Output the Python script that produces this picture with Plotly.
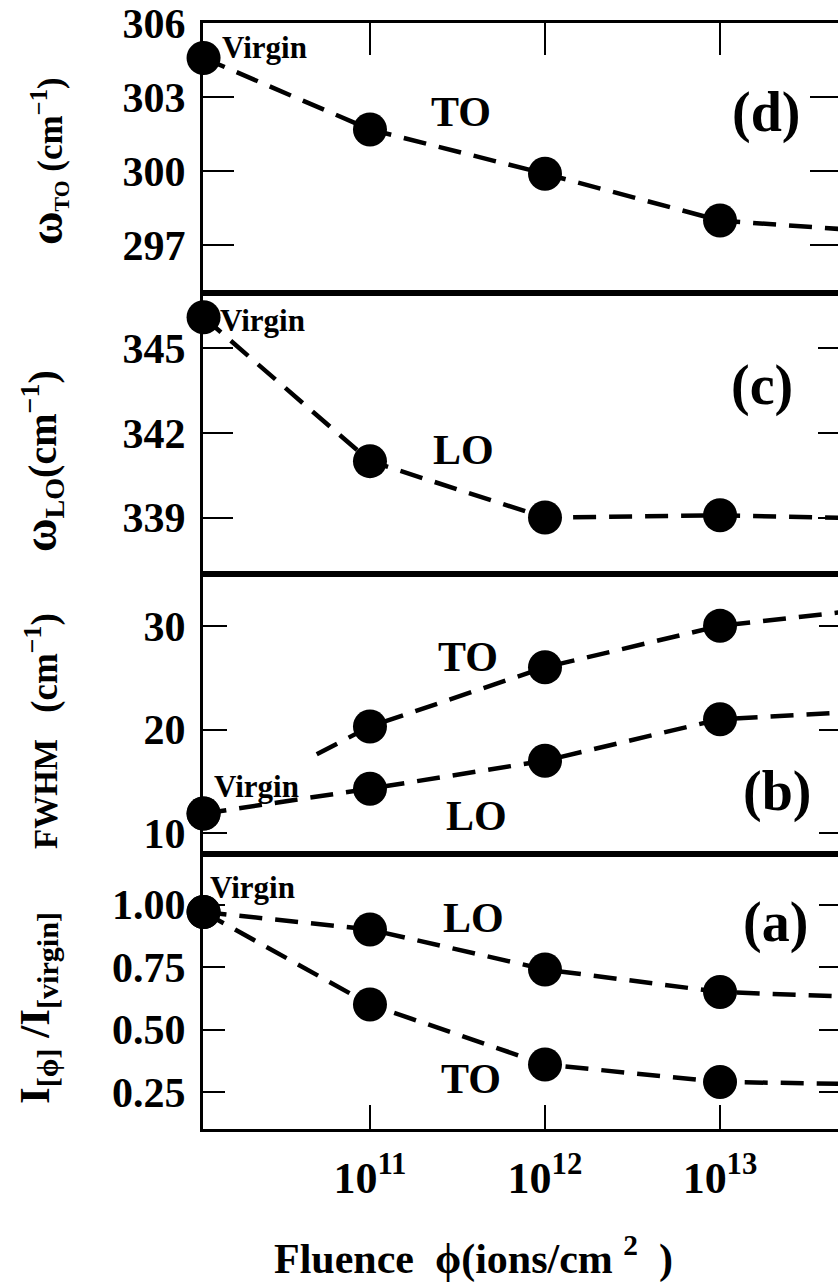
import numpy as np
import plotly.graph_objects as go

# ---------------- data ----------------
fluence = [1.12e10, 1e11, 1e12, 1e13, 1e14]          # first point = "Virgin"
w_TO = [304.6, 301.7, 299.9, 298.0, 297.5]            # panel (d)
w_LO = [346.1, 341.0, 339.0, 339.08, 338.95]          # panel (c)
fwhm_TO = [11.9, 20.3, 26.0, 30.0, 31.9]              # panel (b)
fwhm_LO = [11.9, 14.3, 17.0, 21.0, 21.9]              # panel (b)
I_LO = [0.97, 0.90, 0.74, 0.65, 0.625]                # panel (a)
I_TO = [0.97, 0.60, 0.36, 0.29, 0.28]                 # panel (a)

x_ticks = [1e11, 1e12, 1e13]
x_ticktext = ["10<sup>11</sup>", "10<sup>12</sup>", "10<sup>13</sup>"]
yt_d = [297, 300, 303, 306]
yt_c = [339, 342, 345]
yt_b = [10, 20, 30]
yt_a = [0.25, 0.50, 0.75, 1.00]
yt_a_text = ["0.25", "0.50", "0.75", "1.00"]

XR = [10.046, 13.674]
FONT = "Liberation Serif"
BLACK = "black"
DASH = "23px,13px"
LW = 4.5

fig = go.Figure()

lx = np.log10(fluence)
vis = lx <= XR[1]

def add_markers(xs, ys, yaxis, xaxis):
    fx = [f for f, v in zip(xs, vis) if v]
    fy = [y for y, v in zip(ys, vis) if v]
    fig.add_trace(go.Scatter(x=fx, y=fy, mode="markers", xaxis=xaxis, yaxis=yaxis,
                             marker=dict(size=34, color=BLACK), cliponaxis=False,
                             showlegend=False, hoverinfo="skip"))

def add_series(xs, ys, yaxis, xaxis):
    fig.add_trace(go.Scatter(x=xs, y=ys, mode="lines", xaxis=xaxis, yaxis=yaxis,
                             line=dict(color=BLACK, width=LW, dash=DASH),
                             showlegend=False, hoverinfo="skip"))
    add_markers(xs, ys, yaxis, xaxis)

add_series(fluence, w_TO, "y", "x")
add_series(fluence, w_LO, "y2", "x2")
add_series(fluence, fwhm_LO, "y3", "x3")
# TO line in (b) only visible from part-way along the first segment
frac = 0.68
sx = 10 ** (lx[0] + frac * (lx[1] - lx[0]))
sy = fwhm_TO[0] + frac * (fwhm_TO[1] - fwhm_TO[0])
fig.add_trace(go.Scatter(x=[sx] + fluence[1:], y=[sy] + fwhm_TO[1:], mode="lines",
                         xaxis="x3", yaxis="y3",
                         line=dict(color=BLACK, width=LW, dash=DASH),
                         showlegend=False, hoverinfo="skip"))
add_markers(fluence, fwhm_TO, "y3", "x3")
add_series(fluence, I_LO, "y4", "x4")
add_series(fluence, I_TO, "y4", "x4")

# dummy traces for right-side tick axes
for ya, xa in [("y5", "x"), ("y6", "x2"), ("y7", "x3"), ("y8", "x4")]:
    fig.add_trace(go.Scatter(x=[None], y=[None], xaxis=xa, yaxis=ya, showlegend=False,
                             hoverinfo="skip"))

H = 1106.0
doms = {"a": [0, 275 / H], "b": [275 / H, 555 / H], "c": [555 / H, 836 / H], "d": [836 / H, 1]}
ranges = {"d": [295.06, 306.02], "c": [337.0, 346.96], "b": [8.0, 35.0], "a": [0.102, 1.202]}

tickfont = dict(family=FONT, size=42, color=BLACK, weight="bold")
xtickfont = dict(family=FONT, size=44, color=BLACK, weight="bold")

def xax(anchor, side="bottom", ticks="", ticklen=0, labels=False):
    d = dict(type="log", range=XR, domain=[0, 1], anchor=anchor, side=side,
             showline=True, linewidth=3, linecolor=BLACK, mirror=True,
             showgrid=False, zeroline=False, ticks=ticks, ticklen=ticklen,
             tickwidth=2, tickcolor=BLACK, tickvals=x_ticks, ticktext=x_ticktext,
             showticklabels=labels, tickfont=xtickfont, ticklabelstandoff=8)
    return d

def yax(key, anchor, tickvals, ticklen, ticktext=None):
    d = dict(domain=doms[key], range=ranges[key], anchor=anchor,
             showline=True, linewidth=3, linecolor=BLACK, mirror=False,
             showgrid=False, zeroline=False, ticks="inside", ticklen=ticklen,
             tickwidth=2, tickcolor=BLACK, tickvals=tickvals, tickfont=tickfont,
             ticklabelstandoff=6)
    if ticktext:
        d["ticktext"] = ticktext
    return d

def yright(key, over, anchor, tickvals, ticklen):
    return dict(overlaying=over, side="right", anchor=anchor, range=ranges[key],
                showline=False, showgrid=False, zeroline=False, ticks="inside",
                ticklen=ticklen, tickwidth=2, tickcolor=BLACK, tickvals=tickvals,
                showticklabels=False)

fig.update_layout(
    width=838, height=1286,
    margin=dict(l=203, r=0, t=23, b=157),
    paper_bgcolor="white", plot_bgcolor="white",
    xaxis=xax("y", side="top", ticks="inside", ticklen=32),
    xaxis2=xax("y2"),
    xaxis3=xax("y3"),
    xaxis4=xax("y4", ticks="inside", ticklen=24, labels=True),
    yaxis=yax("d", "x", yt_d, 31),
    yaxis2=yax("c", "x2", yt_c, 30),
    yaxis3=yax("b", "x3", yt_b, 24),
    yaxis4=yax("a", "x4", yt_a, 22, yt_a_text),
    yaxis5=yright("d", "y", "x", yt_d, 28),
    yaxis6=yright("c", "y2", "x2", yt_c, 20),
    yaxis7=yright("b", "y3", "x3", yt_b, 19),
    yaxis8=yright("a", "y4", "x4", yt_a, 19),
)
fig.update_xaxes(matches="x")

def px2x(p):
    return (p - 203) / 635.0

def py2y(p):
    return (1129 - p) / H

ann = []
def A(text, px, py, size, xanchor="center", angle=0):
    ann.append(dict(text=text, x=px2x(px), y=py2y(py), xref="paper", yref="paper",
                    showarrow=False, xanchor=xanchor, yanchor="middle", textangle=angle,
                    font=dict(family=FONT, size=size, color=BLACK, weight="bold")))

# panel labels
A("(d)", 766, 113, 56)
A("(c)", 762, 385, 56)
A("(b)", 777, 791, 56)
A("(a)", 775, 922, 56)
# mode labels
A("TO", 461, 112, 42)
A("LO", 463, 450, 42)
A("TO", 468, 657, 42)
A("LO", 476, 816, 42)
A("LO", 473, 918, 42)
A("TO", 471, 1079, 42)
# Virgin labels
A("Virgin", 220, 47, 31, xanchor="left")
A("Virgin", 218, 320, 31, xanchor="left")
A("Virgin", 212, 786, 31, xanchor="left")
A("Virgin", 208, 887, 31, xanchor="left")
# y titles
A("<span style='font-size:46px'>ω</span><sub>TO</sub><span style='font-size:35px'>\u00a0(cm<sup>−1</sup>)</span>",
  48, 161, 31, angle=-90)
A("<span style='font-size:46px'>ω</span><sub>LO</sub>(cm<sup>−1</sup>)", 42, 461, 40, angle=-90)
A("<span style='font-size:33px'>FWHM</span>\u00a0\u00a0\u00a0<span style='font-size:37px'>(cm<sup>−1</sup>)</span>",
  42, 731, 35, angle=-90)
A("I<sub>[ϕ]</sub> /I<sub>[virgin]</sub>", 38, 1008, 43, angle=-90)
# x title
A("Fluence\u00a0\u00a0ϕ(ions/cm\u00a0<sup>2</sup>\u00a0\u00a0)", 473, 1256, 42)

fig.update_layout(annotations=ann)
fig.write_html("out.html")
